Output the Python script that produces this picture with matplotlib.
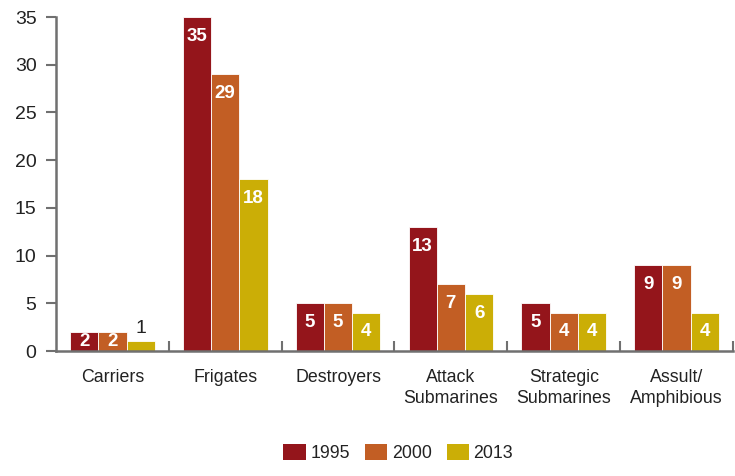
import numpy as np
import matplotlib
matplotlib.use("Agg")
import matplotlib.pyplot as plt
from matplotlib.patches import Patch

plt.rcParams['font.family'] = ['Liberation Sans', 'DejaVu Sans']

categories = ["Carriers", "Frigates", "Destroyers", "Attack\nSubmarines",
              "Strategic\nSubmarines", "Assult/\nAmphibious"]
years = ["1995", "2000", "2013"]
v1995 = [2, 35, 5, 13, 5, 9]
v2000 = [2, 29, 5, 7, 4, 9]
v2013 = [1, 18, 4, 6, 4, 4]
colors = ["#94151b", "#c25e24", "#cbae06"]

text_color = "#222222"
axis_color = "#707070"

fig = plt.figure(figsize=(7.35, 4.76), dpi=100)
ax = fig.add_axes([0.0762, 0.2626, 0.921, 0.7016])

x = np.arange(len(categories))
w = 0.25
series = [v1995, v2000, v2013]
for i, (vals, c) in enumerate(zip(series, colors)):
    bars = ax.bar(x + (i - 1) * w, vals, width=w, color=c,
                  edgecolor="white", linewidth=0.6)
    for b, v in zip(bars, vals):
        cx = b.get_x() + b.get_width() / 2
        if v <= 1:
            # too short to hold its label, so write it above
            ax.annotate(str(v), (cx, v), xytext=(0, 9), textcoords="offset points",
                        ha="center", va="center", color=text_color, fontsize=14)
        else:
            bar_pt = v * 334 / 35 * 0.72
            off = -min(14, bar_pt / 2)
            ax.annotate(str(v), (cx, v), xytext=(0, off), textcoords="offset points",
                        ha="center", va="center", color="white", fontsize=13.5,
                        fontweight="bold")

ax.set_xlim(-0.5, len(categories) - 0.5)
ax.set_ylim(0, 35)
ax.set_yticks(range(0, 36, 5))
ax.tick_params(axis="y", direction="out", length=7, width=1.5, color=axis_color,
               labelsize=14, labelcolor=text_color, pad=7)

# category labels centred under each group, ticks at the group boundaries
ax.set_xticks(x)
ax.set_xticklabels(categories, fontsize=12.8, color=text_color, linespacing=1.3)
ax.tick_params(axis="x", length=0, pad=13)
ax.set_xticks(np.arange(0.5, len(categories), 1), minor=True)
ax.tick_params(axis="x", which="minor", direction="in", length=7, width=1.5,
               color=axis_color)

for s in ["top", "right"]:
    ax.spines[s].set_visible(False)
for s in ["left", "bottom"]:
    ax.spines[s].set_color(axis_color)
    ax.spines[s].set_linewidth(1.8)

handles = [Patch(facecolor=c, label=y) for c, y in zip(colors, years)]
fig.legend(handles=handles, loc="lower center", bbox_to_anchor=(0.542, -0.005),
           ncol=3, frameon=False, fontsize=12.8, handlelength=1.26,
           handleheight=1.0, handletextpad=0.25, columnspacing=0.85,
           labelcolor=text_color)

fig.savefig("out.png", dpi=100)
